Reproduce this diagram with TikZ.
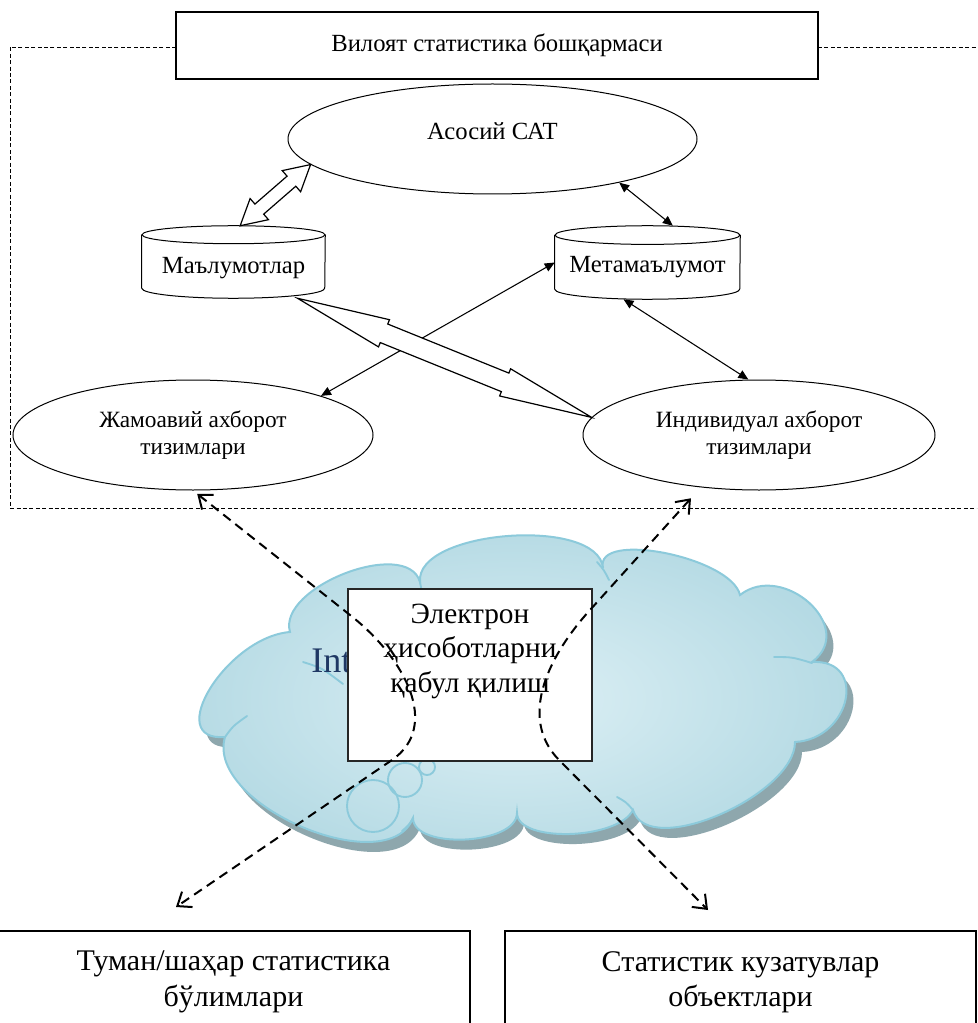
\documentclass[tikz,border=0pt]{standalone}
\usepackage{fontspec}
\setmainfont{Liberation Serif}
\usetikzlibrary{calc,arrows.meta,shapes.geometric}
\definecolor{cloudA}{HTML}{DDF0F5}
\definecolor{cloudB}{HTML}{B3D9E3}
\definecolor{cloudLine}{HTML}{8CCADB}
\definecolor{cloudShadow}{HTML}{8EA7AD}
\definecolor{inetBlue}{HTML}{1F3864}
\newcommand{\hollowarrow}[5]{%
  \filldraw[fill=white, line width=0.9pt, line join=miter]
    (#2) -- ($(#2)!#3!(#1)!#4!90:(#2)$) -- ($(#2)!#3!(#1)!#5!90:(#2)$)
    -- ($(#1)!#3!(#2)!#5!-90:(#1)$) -- ($(#1)!#3!(#2)!#4!-90:(#1)$)
    -- (#1) -- ($(#1)!#3!(#2)!#4!90:(#1)$) -- ($(#1)!#3!(#2)!#5!90:(#1)$)
    -- ($(#2)!#3!(#1)!#5!-90:(#2)$) -- ($(#2)!#3!(#1)!#4!-90:(#2)$) -- cycle;}
\begin{document}
\begin{tikzpicture}[x=0.75pt, y=-0.75pt,
  ell/.style={draw, ellipse, line width=0.75pt, inner sep=0pt, align=center, font=\fontsize{17.5}{20}\selectfont},
  cylnode/.style={inner sep=0pt, font=\fontsize{18.5}{21}\selectfont},
  cylline/.style={line width=0.75pt},
  sqbox/.style={draw, line width=1pt, inner sep=0pt, align=center, fill=white},
  thinarr/.style={line width=0.8pt, {Triangle[length=7.5pt,width=6.5pt]}-{Triangle[length=7.5pt,width=6.5pt]}},
  dasharr/.style={line width=1.5pt, dash pattern=on 7pt off 4.5pt, {Straight Barb[length=9pt,width=14pt]}-{Straight Barb[length=9pt,width=14pt]}},
  frame/.style={line width=0.6pt, dash pattern=on 3pt off 1.8pt},
  puffline/.style={draw=cloudLine, line width=1.4pt, line cap=round},
  cloudp/.style={insert path={(225,737) .. controls (162,742) and (227,637) .. (290,632)
     .. controls (277,587) and (407,537) .. (420,582)
     .. controls (415,530) and (598,516) .. (603,568)
     .. controls (594,530) and (731,557) .. (740,595)
     .. controls (783,561) and (858,628) .. (812,662)
     .. controls (868,659) and (851,739) .. (795,742)
     .. controls (795,795) and (648,860) .. (633,810)
     .. controls (618,840) and (517,843) .. (517,813)
     .. controls (517,845) and (413,850) .. (413,818)
     .. controls (388,882) and (205,805) .. (225,737) -- cycle}}
]
\clip (0,0) rectangle (977,1023);
\fill[white] (0,0) rectangle (977,1023);

% dashed frame
\draw[frame] (176,47) -- (10,47) -- (10,508) -- (985,508);
\draw[frame] (818,47) -- (985,47);

\node[sqbox, minimum width=481.5pt, minimum height=50.25pt, font=\fontsize{18.5}{22}\selectfont] (vil) at (497,45.5) {Вилоят статистика бошқармаси};

\node[ell, minimum width=306.75pt, minimum height=82.5pt, text height=12pt, text depth=10.8pt, font=\fontsize{18.5}{20}\selectfont] (asat) at (492.5,139) {Асосий САТ};
\node[ell, minimum width=270pt, minimum height=82.5pt] (jam) at (193,435) {Жамоавий ахборот\\тизимлари};
\node[ell, minimum width=264pt, minimum height=82.5pt] (ind) at (759,435) {Индивидуал ахборот\\тизимлари};

\node[cylnode, minimum width=137.25pt, minimum height=54pt, text height=22pt, text depth=4pt] (dat) at (233.5,262) {Маълумотлар};
\node[cylnode, minimum width=138.75pt, minimum height=54.75pt, text height=19pt, text depth=4pt] (meta) at (647.5,262.5) {Метамаълумот};

\draw[cylline] ([yshift=-6.75pt]dat.north west) -- ([yshift=7.5pt]dat.south west) arc[start angle=180, end angle=360, x radius=68.625pt, y radius=7.5pt] -- ([yshift=-6.75pt]dat.north east);
\draw[cylline] ([yshift=-6.75pt]dat.north) ellipse[x radius=68.625pt, y radius=6.75pt];
\draw[cylline] ([yshift=-7pt]meta.north west) -- ([yshift=7.5pt]meta.south west) arc[start angle=180, end angle=360, x radius=69.375pt, y radius=7.5pt] -- ([yshift=-7pt]meta.north east);
\draw[cylline] ([yshift=-7pt]meta.north) ellipse[x radius=69.375pt, y radius=7pt];

% thin arrows
\draw[thinarr] (asat.341) -- ([xshift=19pt]meta.north);
\draw[thinarr] ([xshift=-18pt]meta.south) -- ([xshift=-8pt]ind.north);
\draw[thinarr] (meta.west) -- (jam.17);

% hollow double arrows
\coordinate (h1a) at ([xshift=5pt]dat.north);
\coordinate (h1b) at (asat.188);
\hollowarrow{h1a}{h1b}{19pt}{10.5pt}{5pt}
\coordinate (h2a) at ([xshift=48pt]dat.south);
\coordinate (h2b) at (ind.174);
\hollowarrow{h2a}{h2b}{70pt}{11pt}{7.5pt}

% cloud
\path[fill=cloudShadow, shift={(7,10)}, cloudp];
\path[draw=cloudLine, line width=1.5pt, inner color=cloudA, outer color=cloudB, cloudp];
\draw[puffline] (373,806) circle[radius=19.5pt];
\draw[puffline] (405,780) circle[radius=12.75pt];
\draw[puffline] (427,767) circle[radius=6pt];
\draw[puffline] (303,662) .. controls (322,668) .. (343,684);
\draw[puffline] (597,562) .. controls (604,570) .. (609,580);
\draw[puffline] (774,657) .. controls (792,657) .. (812,663);
\draw[puffline] (617,797) .. controls (626,802) .. (633,810);
\draw[puffline] (413,818) .. controls (409,825) .. (402,831);
\draw[puffline] (225,737) .. controls (233,726) .. (247,716);
\draw[puffline] (420,582) .. controls (422,590) .. (423,598);

\node[anchor=base west, text=inetBlue, font=\fontsize{27}{30}\selectfont, inner sep=0pt] (inet) at (311,672) {Int};

\node[sqbox, draw=black!85, line width=0.9pt, minimum width=183pt, minimum height=129pt, font=\fontsize{22}{26}\selectfont] (erep) at (470,675) {\begin{minipage}[c][129pt][t]{183pt}\centering\vspace*{11pt}Электрон\\ҳисоботларни\\қабул қилиш\end{minipage}};

% bottom boxes
\node[sqbox, minimum width=354.75pt, minimum height=76.5pt, font=\fontsize{22.5}{26.5}\selectfont] (tum) at (233.5,982) {Туман/шаҳар статистика\\бўлимлари};
\node[sqbox, minimum width=353.25pt, minimum height=76.5pt, font=\fontsize{22.5}{26.5}\selectfont] (stat) at (740.5,982) {Статистик кузатувлар\\объектлари};

% dashed arrows
\coordinate (tumIn) at (176,907);
\coordinate (statIn) at (708,910);
\draw[dasharr, shorten <=4pt] (jam.south) -- (350,615) .. controls (405,658) and (441,726) .. (392,760) -- (tumIn);
\draw[dasharr, shorten <=11pt] (ind.222) -- (590,610) .. controls (550,654) and (517,717) .. (559,760) -- (statIn);
\end{tikzpicture}
\end{document}
